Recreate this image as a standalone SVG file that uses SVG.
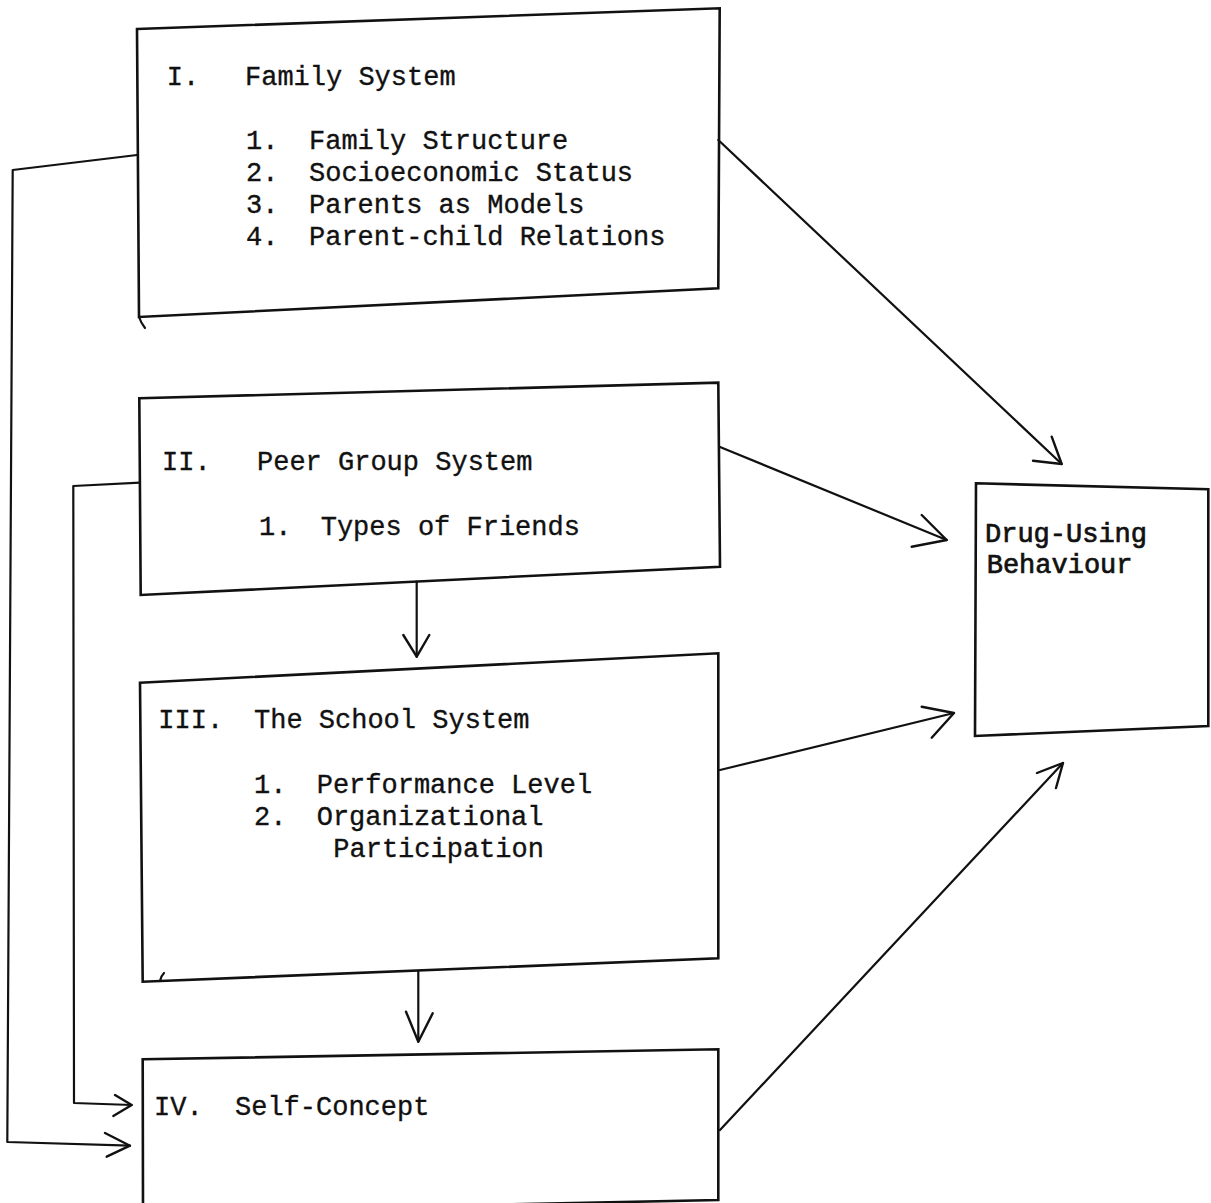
<svg xmlns="http://www.w3.org/2000/svg" width="1211" height="1203" viewBox="0 0 1211 1203">
<style>
  .box { fill: none; stroke: #111; stroke-width: 2.6; stroke-linejoin: miter; }
  .ln { fill: none; stroke: #111; stroke-width: 2.2; stroke-linecap: round; stroke-linejoin: round; }
  .hd { fill: none; stroke: #111; stroke-width: 2.4; stroke-linecap: round; stroke-linejoin: round; }
  .tx { font-family: "Liberation Mono", "Courier New", monospace; font-size: 27px; fill: #111; stroke: #111; stroke-width: 0.35; }
  .bd { stroke-width: 0.7; }
</style>
<rect x="0" y="0" width="1211" height="1203" fill="#ffffff"/>

<g id="connectors">
  <polyline class="ln" points="137,155 12.7,170 7.3,1142 130,1145.7"/>
  <polyline class="hd" points="105,1133 130,1145.7 106.7,1156.7"/>
  <polyline class="ln" points="140,482.7 73.3,486 74,1103 131.7,1105"/>
  <polyline class="hd" points="115,1095 131.7,1105 113.3,1116"/>
  <line class="ln" x1="416.7" y1="581.7" x2="416.7" y2="656.7"/>
  <polyline class="hd" points="403.3,635 416.7,656.7 429.3,635"/>
  <line class="ln" x1="418.3" y1="971.7" x2="418.3" y2="1041.7"/>
  <polyline class="hd" points="406,1011.7 418.3,1041.7 432.7,1013.3"/>
  <line class="ln" x1="718.3" y1="140" x2="1061.7" y2="464"/>
  <polyline class="hd" points="1051.7,436.7 1061.7,464 1033,460.7"/>
  <line class="ln" x1="720" y1="447" x2="946.7" y2="540"/>
  <polyline class="hd" points="921.7,515 946.7,540 911.7,546.7"/>
  <line class="ln" x1="720" y1="770" x2="954" y2="713"/>
  <polyline class="hd" points="921.7,706.7 954,713 931.7,737.7"/>
  <line class="ln" x1="720" y1="1130" x2="1063" y2="763"/>
  <polyline class="hd" points="1037,773 1063,763 1056,788"/>
</g>

<g id="node-family">
  <polygon class="box" points="137,29 719.7,8.3 718.3,288.3 139,317"/>
  <path class="ln" d="M139,317 Q141,323 145,328"/>
  <text class="tx" x="166.7" y="85">I.</text>
  <text class="tx" x="245" y="85">Family System</text>
  <text class="tx" x="246" y="149">1.</text>
  <text class="tx" x="309" y="149">Family Structure</text>
  <text class="tx" x="246" y="181">2.</text>
  <text class="tx" x="309" y="181">Socioeconomic Status</text>
  <text class="tx" x="246" y="213">3.</text>
  <text class="tx" x="309" y="213">Parents as Models</text>
  <text class="tx" x="246" y="245">4.</text>
  <text class="tx" x="309" y="245">Parent-child Relations</text>
</g>

<g id="node-peer">
  <polygon class="box" points="139.3,398.3 718.3,382.7 720,566.7 140.7,595"/>
  <text class="tx" x="162" y="470">II.</text>
  <text class="tx" x="257" y="470">Peer Group System</text>
  <text class="tx" x="259" y="535">1.</text>
  <text class="tx" x="320.7" y="535">Types of Friends</text>
</g>

<g id="node-school">
  <polygon class="box" points="140,682.7 718.3,653.3 718.3,958.3 142.7,981.7"/>
  <path class="ln" d="M160,981 Q161,976 164,973"/>
  <text class="tx" x="158.3" y="728">III.</text>
  <text class="tx" x="254" y="728">The School System</text>
  <text class="tx" x="254" y="793">1.</text>
  <text class="tx" x="316.7" y="793">Performance Level</text>
  <text class="tx" x="254" y="825">2.</text>
  <text class="tx" x="316.7" y="825">Organizational</text>
  <text class="tx" x="333.3" y="857">Participation</text>
</g>

<g id="node-self">
  <polygon class="box" points="142.7,1059.3 718.3,1049.3 718.3,1200 143,1212"/>
  <text class="tx" x="154" y="1115">IV.</text>
  <text class="tx" x="235" y="1115">Self-Concept</text>
</g>

<g id="node-drug">
  <polygon class="box" points="976,483.3 1208.3,489.3 1208.3,726 975,736"/>
  <text class="tx bd" x="985" y="542">Drug-Using</text>
  <text class="tx bd" x="986.7" y="573">Behaviour</text>
</g>
</svg>
